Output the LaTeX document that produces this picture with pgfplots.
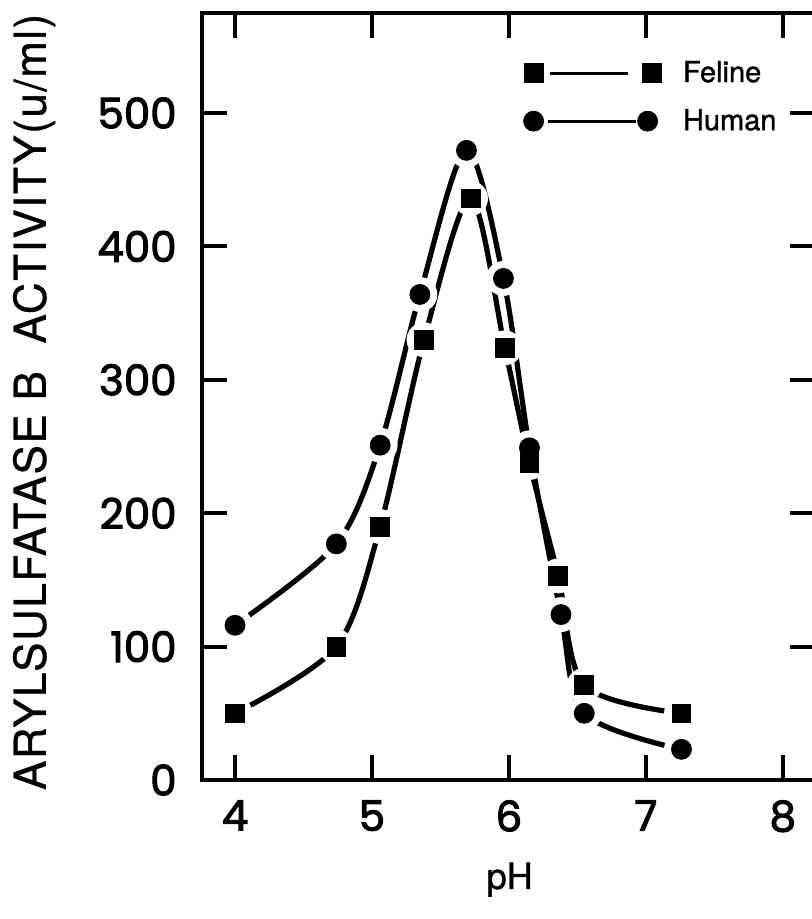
\documentclass[border=0pt]{standalone}
\usepackage{fontspec}
\setmainfont{TeX Gyre Heros}
\newfontfamily\geo[FakeBold=2.5]{Poppins}
\newfontfamily\lab[LetterSpace=3.5, FakeBold=0.8]{TeX Gyre Heros}
\newfontfamily\heavy[FakeBold=1.2]{TeX Gyre Heros}
\usepackage{pgfplots}
\usepackage{pgfplotstable}
\pgfplotsset{compat=1.18}

% Arylsulfatase B activity (u/ml) against pH
\pgfplotstableread{
ph   act
4.00  50
4.74 100
5.06 190
5.38 330
5.72 436
5.97 324
6.15 238
6.36 153
6.55  71
7.26  50
}\feline

\pgfplotstableread{
ph   act
4.00 116
4.74 177
5.06 251
5.35 364
5.69 472
5.96 376
6.15 249
6.38 124
6.55  50
7.26  23
}\human

\begin{document}
\begin{tikzpicture}
\begin{axis}[
  scale only axis,
  width=306.5pt, height=383.5pt,
  xmin=3.759, xmax=8.235,
  ymin=0, ymax=575,
  xtick={4,5,6,7,8},
  ytick={0,100,200,300,400,500},
  xtick pos=both, ytick pos=both,
  xticklabel pos=lower, yticklabel pos=left,
  tick align=inside,
  major tick length=12.5pt,
  every tick/.style={black, line width=2pt},
  axis line style={line width=2pt},
  /pgf/number format/assume math mode=true,
  ticklabel style={font=\geo\fontsize{21}{21}\selectfont, inner sep=0pt},
  xticklabel style={anchor=north, yshift=-10pt},
  yticklabel style={anchor=east, xshift=-12.5pt},
  xlabel={pH},
  xlabel style={at={(axis description cs:0.502,-0.13)}, anchor=center,
                font=\heavy\fontsize{18}{18}\selectfont},
  ylabel={ARYLSULFATASE B\ \ ACTIVITY(u/ml)},
  ylabel style={at={(axis description cs:-0.274,0.493)}, anchor=center,
                font=\lab\fontsize{22}{22}\selectfont},
  legend cell align=left,
  legend style={draw=none, fill=none, at={(rel axis cs:0.524,0.938)},
                anchor=north west, inner sep=0pt, row sep=12pt, column sep=11pt,
                font=\heavy\fontsize{14.5}{15}\selectfont,
                nodes={inner sep=0pt}},
]
% smooth curves through the measurements
\addplot[black, line width=2.6pt, smooth, mark=none, forget plot] table[x=ph, y=act] {\feline};
\addplot[black, line width=2.6pt, smooth, mark=none, forget plot] table[x=ph, y=act] {\human};
% white clearings so the curves stop short of each symbol
\addplot[white, only marks, mark=*, mark size=8.5pt, forget plot] table[x=ph, y=act] {\feline};
\addplot[white, only marks, mark=*, mark size=8.5pt, forget plot] table[x=ph, y=act] {\human};
% symbols
\addplot[black, only marks, mark=square*, mark size=4.7pt,
  legend image code/.code={
    \draw[mark=none, line width=1.5pt] (8pt,0pt) -- (47pt,0pt);
    \draw[only marks] plot coordinates {(0pt,0pt) (59pt,0pt)};
  }] table[x=ph, y=act] {\feline};
\addlegendentry{Feline}
\addplot[black, only marks, mark=*, mark size=5pt,
  legend image code/.code={
    \draw[mark=none, line width=1.5pt] (7pt,0pt) -- (51pt,0pt);
    \draw[only marks] plot coordinates {(0pt,0pt) (57pt,0pt)};
  }] table[x=ph, y=act] {\human};
\addlegendentry{Human}
\end{axis}
\pgfresetboundingbox
\useasboundingbox ([shift={(-101pt,-69.5pt)}]current axis.south west)
  rectangle ([shift={(305pt,390pt)}]current axis.south west);
\end{tikzpicture}
\end{document}
